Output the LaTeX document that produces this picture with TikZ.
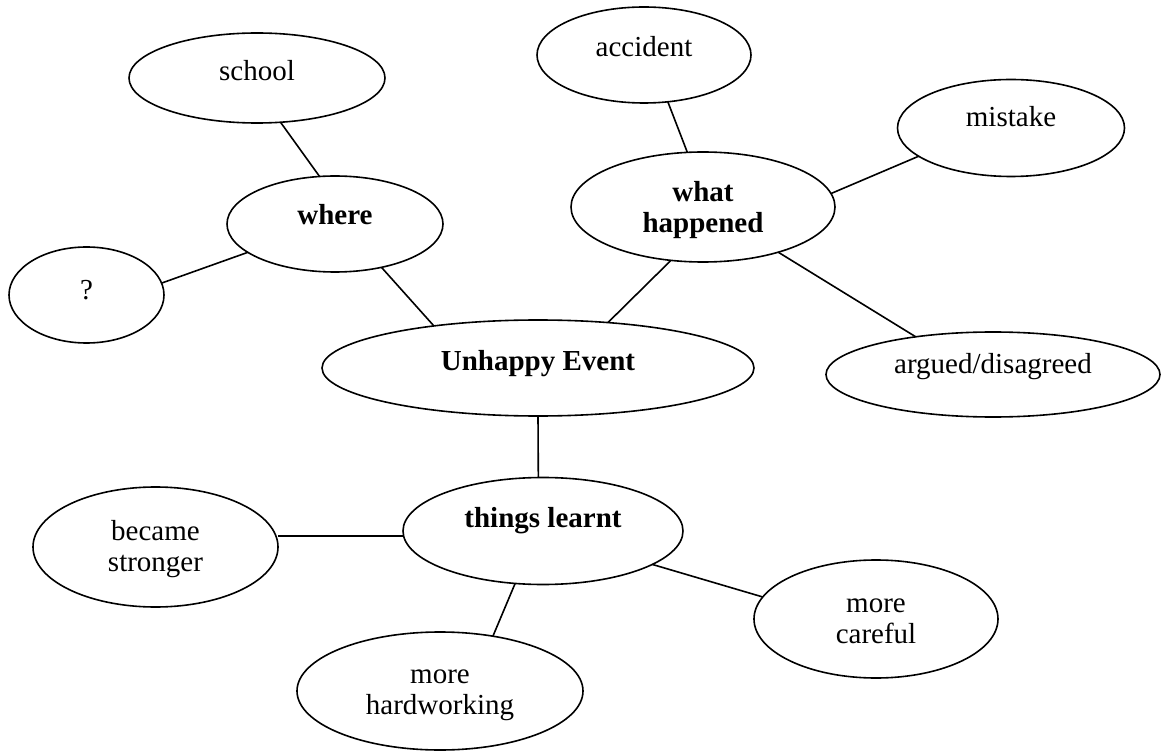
\documentclass[tikz,border=0pt]{standalone}
\usepackage{fontspec}
\setmainfont{Liberation Serif}
\usetikzlibrary{shapes.geometric}
\newcommand{\oneline}[2]{\raisebox{#1}[0pt][0pt]{#2}}
\newcommand{\twoline}[3]{\raisebox{#1}[0pt][0pt]{\begin{tabular}[t]{@{}c@{}}#2\\#3\end{tabular}}}
\tikzset{
  ell/.style={draw, ellipse, line width=1.6pt, inner sep=0pt, outer sep=0pt,
    font=\fontsize{29}{31}\selectfont},
  bld/.style={font=\fontsize{29}{31}\selectfont\bfseries},
  conn/.style={line width=1.6pt},
  sz/.style 2 args={minimum width=#1pt, minimum height=#2pt}
}
\begin{document}
\begin{tikzpicture}[x=1pt,y=-1pt]
\useasboundingbox (0,0) rectangle (1162,751);
\node[ell, sz={256}{90}] (school) at (257,78) {\oneline{-3pt}{school}};
\node[ell, bld, sz={216}{96}] (where) at (335,224) {\oneline{-1pt}{where}};
\node[ell, sz={155}{96}] (q) at (86.5,295) {\oneline{-5pt}{?}};
\node[ell, sz={214}{96}] (accident) at (644,55) {\oneline{-2pt}{accident}};
\node[ell, bld, sz={264}{110}] (what) at (703,207) {\twoline{5pt}{what}{happened}};
\node[ell, sz={227}{97}] (mistake) at (1011,128) {\oneline{1pt}{mistake}};
\node[ell, bld, sz={432}{96}] (unhappy) at (538,368) {\oneline{-2pt}{Unhappy Event}};
\node[ell, sz={334}{85}] (argued) at (993,374.5) {\oneline{1.5pt}{argued/disagreed}};
\node[ell, bld, sz={280}{107}] (things) at (543,531) {\oneline{4pt}{things learnt}};
\node[ell, sz={245}{120}] (became) at (155.5,547) {\twoline{7pt}{became}{stronger}};
\node[ell, sz={286}{118}] (hardworking) at (440,691) {\twoline{8pt}{more}{hardworking}};
\node[ell, sz={244}{118}] (careful) at (876,619) {\twoline{7pt}{more}{careful}};
\draw[conn] (school.-62.9) -- (where.108.4);
\draw[conn] (q.9) -- (where.198);
\draw[conn] (where.-43.1) -- (unhappy.158.6);
\draw[conn] (accident.-63.4) -- (what.106.2);
\draw[conn] (what.6.6) -- (mistake.197.7);
\draw[conn] (what.-121.7) -- (unhappy.33.3);
\draw[conn] (what.-31.2) -- (argued.154.2);
\draw[conn] (unhappy.south) -- (things.95.4);
\draw[conn] (things.182) -- (became.east |- things.182);
\draw[conn] (things.-17.3) -- (careful.169.1);
\draw[conn] (things.-118.7) -- (hardworking.46.1);
\end{tikzpicture}
\end{document}
